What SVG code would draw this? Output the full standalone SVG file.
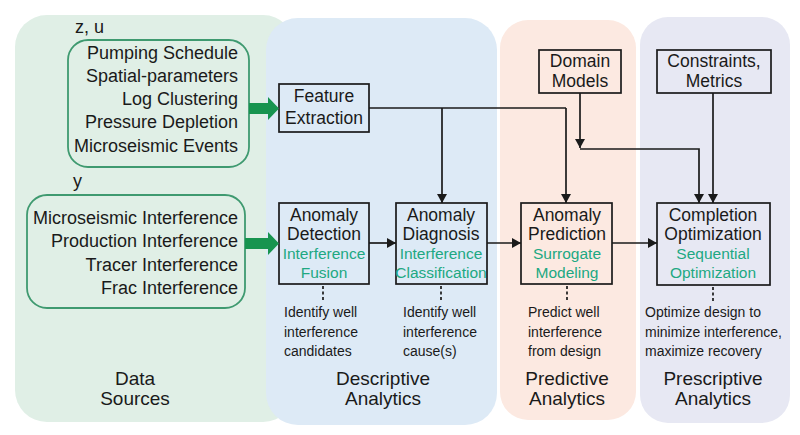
<svg xmlns="http://www.w3.org/2000/svg" width="800" height="435" viewBox="0 0 800 435">
<defs>
<style>
text{font-family:"Liberation Sans",Arial,sans-serif;fill:#1a1a1a}
.ds{font-size:18px;text-anchor:end}
.bx{font-size:17.5px;text-anchor:middle}
.gr{font-size:15.5px;text-anchor:middle;fill:#20a882}
.ds2{font-size:14px}
.tt{font-size:19px;text-anchor:middle}
.box{fill:none;stroke:#1a1a1a;stroke-width:1.7}
.rbox{fill:none;stroke:#3f9a70;stroke-width:1.8}
.ln{fill:none;stroke:#1a1a1a;stroke-width:1.7}
.dash{fill:none;stroke:#1a1a1a;stroke-width:1.7;stroke-dasharray:3 2.5}
.garrow{fill:#17944f}
</style>
<marker id="ah" viewBox="0 0 9 10" refX="9" refY="5" markerWidth="9" markerHeight="10" markerUnits="userSpaceOnUse" orient="auto">
<path d="M0,0 L9,5 L0,10 z" fill="#1a1a1a"/>
</marker>
</defs>
<rect width="800" height="435" fill="#ffffff"/>
<g id="panels">
<rect x="15" y="15" width="280" height="407" rx="32" fill="#e0efe6"/>
<rect x="266" y="18" width="231" height="407" rx="32" fill="#ddeaf6"/>
<rect x="500" y="20" width="136" height="400" rx="28" fill="#fce9e1"/>
<rect x="640" y="17" width="150" height="406" rx="28" fill="#e7e8f3"/>
</g>
<g id="panel-titles">
<text class="tt" x="135" y="385">Data</text>
<text class="tt" x="135" y="405">Sources</text>
<text class="tt" x="383" y="385">Descriptive</text>
<text class="tt" x="383" y="405">Analytics</text>
<text class="tt" x="567" y="385">Predictive</text>
<text class="tt" x="567" y="405">Analytics</text>
<text class="tt" x="713" y="385">Prescriptive</text>
<text class="tt" x="713" y="405">Analytics</text>
</g>
<g id="inputs-zu">
<text style="font-size:18px" x="75" y="33">z, u</text>
<rect class="rbox" x="68" y="40" width="181" height="127" rx="20"/>
<text class="ds" x="238" y="59">Pumping Schedule</text>
<text class="ds" x="238" y="82">Spatial-parameters</text>
<text class="ds" x="238" y="105">Log Clustering</text>
<text class="ds" x="238" y="128">Pressure Depletion</text>
<text class="ds" x="238" y="152">Microseismic Events</text>
</g>
<g id="inputs-y">
<text style="font-size:18px" x="73" y="187">y</text>
<rect class="rbox" x="27" y="195" width="218" height="113" rx="20"/>
<text class="ds" x="238" y="224">Microseismic Interference</text>
<text class="ds" x="238" y="247">Production Interference</text>
<text class="ds" x="238" y="271">Tracer Interference</text>
<text class="ds" x="238" y="294">Frac Interference</text>
</g>
<g id="feature-extraction">
<rect class="box" x="279" y="84" width="90" height="48"/>
<text class="bx" x="324" y="102">Feature</text>
<text class="bx" x="324" y="124">Extraction</text>
</g>
<g id="domain-models">
<rect class="box" x="539" y="50" width="82" height="43"/>
<text class="bx" x="580" y="67">Domain</text>
<text class="bx" x="580" y="87">Models</text>
</g>
<g id="constraints">
<rect class="box" x="657" y="50" width="114" height="43"/>
<text class="bx" x="714" y="67">Constraints,</text>
<text class="bx" x="714" y="87">Metrics</text>
</g>
<g id="anomaly-detection">
<rect class="box" x="279" y="203" width="90" height="81"/>
<text class="bx" x="324" y="221">Anomaly</text>
<text class="bx" x="324" y="240">Detection</text>
<text class="gr" x="324" y="259">Interference</text>
<text class="gr" x="324" y="278">Fusion</text>
<text class="ds2" x="284" y="317">Identify well</text>
<text class="ds2" x="284" y="337">interference</text>
<text class="ds2" x="284" y="356">candidates</text>
</g>
<g id="anomaly-diagnosis">
<rect class="box" x="396" y="203" width="91" height="81"/>
<text class="bx" x="441" y="221">Anomaly</text>
<text class="bx" x="441" y="240">Diagnosis</text>
<text class="gr" x="441" y="259">Interference</text>
<text class="gr" x="441" y="278">Classification</text>
<text class="ds2" x="403" y="317">Identify well</text>
<text class="ds2" x="403" y="337">interference</text>
<text class="ds2" x="403" y="356">cause(s)</text>
</g>
<g id="anomaly-prediction">
<rect class="box" x="521" y="203" width="91" height="81"/>
<text class="bx" x="567" y="221">Anomaly</text>
<text class="bx" x="567" y="240">Prediction</text>
<text class="gr" x="567" y="259">Surrogate</text>
<text class="gr" x="567" y="278">Modeling</text>
<text class="ds2" x="528" y="317">Predict well</text>
<text class="ds2" x="528" y="337">interference</text>
<text class="ds2" x="528" y="356">from design</text>
</g>
<g id="completion-optimization">
<rect class="box" x="657" y="203" width="113" height="82"/>
<text class="bx" x="713" y="221">Completion</text>
<text class="bx" x="713" y="240">Optimization</text>
<text class="gr" x="713" y="259">Sequential</text>
<text class="gr" x="713" y="278">Optimization</text>
<text class="ds2" x="645" y="317">Optimize design to</text>
<text class="ds2" x="645" y="337">minimize interference,</text>
<text class="ds2" x="645" y="356">maximize recovery</text>
</g>
<g id="connectors">
<path class="garrow" d="M249,103 L268,103 L268,97 L279,108.5 L268,120 L268,114 L249,114 z"/>
<path class="garrow" d="M245,238 L268,238 L268,232 L279,243.5 L268,255 L268,249 L245,249 z"/>
<path class="ln" d="M369,108 L566,108"/>
<path class="ln" d="M442,108 L442,203" marker-end="url(#ah)"/>
<path class="ln" d="M566,108 L566,203" marker-end="url(#ah)"/>
<path class="ln" d="M580,93 L580,148" marker-end="url(#ah)"/>
<path class="ln" d="M580,149 L699,149 L699,203" marker-end="url(#ah)"/>
<path class="ln" d="M713,93 L713,203" marker-end="url(#ah)"/>
<path class="ln" d="M369,243 L396,243" marker-end="url(#ah)"/>
<path class="ln" d="M487,243 L521,243" marker-end="url(#ah)"/>
<path class="ln" d="M612,243 L657,243" marker-end="url(#ah)"/>
<path class="dash" d="M323,286 L323,301"/>
<path class="dash" d="M441,286 L441,301"/>
<path class="dash" d="M567,286 L567,301"/>
<path class="dash" d="M713,287 L713,301"/>
</g>
</svg>
